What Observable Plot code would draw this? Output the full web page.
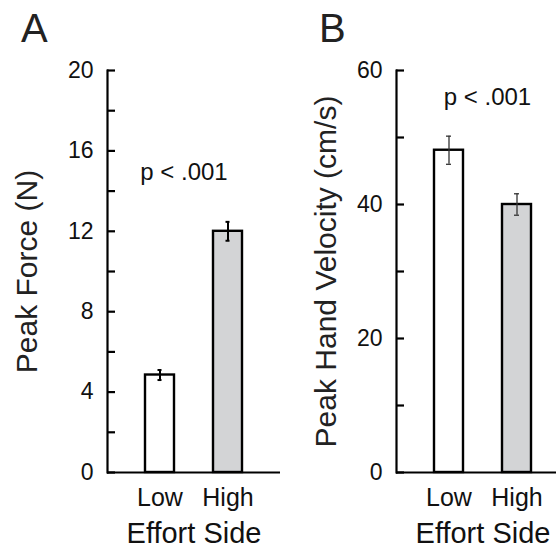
<!DOCTYPE html>
<html><head><meta charset="utf-8">
<script src="https://cdn.jsdelivr.net/npm/d3@7"></script>
<script src="https://cdn.jsdelivr.net/npm/@observablehq/plot@0.6"></script>
<style>
html,body{margin:0;padding:0;width:556px;height:550px;overflow:hidden;background:#fff;font-family:"Liberation Sans",Arial,sans-serif;}
#wrap{position:relative;width:556px;height:550px;overflow:hidden;}
.panel{position:absolute;top:0;}
.panel svg{max-width:none !important;display:block;}
.letter{position:absolute;font-size:40px;line-height:1;color:#222;}
</style></head><body>
<div id="wrap">
 <div id="pa" class="panel" style="left:0px;width:280px"></div>
 <div id="pb" class="panel" style="left:280px;width:289px"></div>
 <div class="letter" style="left:21px;top:8px">A</div>
 <div class="letter" style="left:319px;top:8px">B</div>
</div>
<script>
const categories = ["Low", "High"];
const forceMean = [4.85, 12.0];
const forceErr = [0.25, 0.47];
const velocityMean = [48.1, 40.0];
const velocityErr = [2.1, 1.6];
const forceTicks = [0, 4, 8, 12, 16, 20];
const forceMinorTicks = [0, 2, 4, 6, 8, 10, 12, 14, 16, 18, 20];
const velocityTicks = [0, 20, 40, 60];
const velocityMinorTicks = [0, 10, 20, 30, 40, 50, 60];
const barFills = ["#ffffff", "#d3d4d6"];
const xTitle = "Effort Side";
const pText = "p < .001";

function panel(o) {
  const data = categories.map((c, i) => ({cat: c, mean: o.means[i], err: o.errs[i], fill: barFills[i]}));
  const ml = o.marginLeft;
  return Plot.plot({
    width: o.width,
    height: 550,
    marginLeft: ml,
    marginRight: 0,
    marginTop: 70,
    marginBottom: 78,
    style: {fontFamily: "Liberation Sans, Arial, sans-serif", color: "#111", background: "transparent", overflow: "visible", maxWidth: "none"},
    x: {type: "band", domain: categories, range: [ml, ml + 173], padding: 0.544, align: 0.5, label: null},
    y: {domain: o.domain, label: null},
    color: {type: "identity"},
    marks: [
      Plot.barY(data, {x: "cat", y: "mean", fill: "fill", stroke: "#000", strokeWidth: 2.4, insetLeft: 1, insetRight: 1}),
      Plot.ruleX(data, {x: "cat", y1: d => d.mean - d.err, y2: d => d.mean + d.err, stroke: o.errStroke, strokeWidth: o.errWidth}),
      Plot.tickY(data, {x: "cat", y: d => d.mean + d.err, stroke: o.errStroke, strokeWidth: o.errWidth, insetLeft: o.capInset, insetRight: o.capInset}),
      Plot.tickY(data, {x: "cat", y: d => d.mean - d.err, stroke: o.errStroke, strokeWidth: o.errWidth, insetLeft: o.capInset, insetRight: o.capInset}),
      Plot.ruleY([0], {stroke: "#000", strokeWidth: 2.2}),
      Plot.frame({anchor: "left", stroke: "#000", strokeWidth: 2.2}),
      Plot.axisY({ticks: o.minor, tickSize: -8, tickFormat: () => "", strokeWidth: 2.2, stroke: "#000", label: null}),
      Plot.axisY({ticks: o.ticks, tickSize: 0, tickPadding: 14, fontSize: 23, label: null, fill: "#111"}),
      Plot.axisX({tickSize: 0, tickPadding: 16, fontSize: 25, label: null, fill: "#111"}),
      Plot.text([xTitle], {text: d => d, frameAnchor: "bottom", textAnchor: "middle", lineAnchor: "middle", dy: 61, fontSize: 29, fill: "#111"}),
      Plot.text([o.title], {text: d => d, frameAnchor: "left", textAnchor: "middle", lineAnchor: "middle", dx: o.titleDx, rotate: -90, fontSize: 30, fill: "#222"}),
      Plot.text([pText], {text: d => d, frameAnchor: "top", textAnchor: "middle", lineAnchor: "middle", dx: o.pdx, dy: o.pdy, fontSize: 24, fill: "#111"})
    ]
  });
}

document.getElementById("pa").appendChild(panel({
  means: forceMean, errs: forceErr, domain: [0, 20], ticks: forceTicks, minor: forceMinorTicks,
  title: "Peak Force (N)", width: 280, marginLeft: 107, titleDx: -80,
  errStroke: "#000", errWidth: 2, capInset: 13.5, pdx: -10, pdy: 102
}));
document.getElementById("pb").appendChild(panel({
  means: velocityMean, errs: velocityErr, domain: [0, 60], ticks: velocityTicks, minor: velocityMinorTicks,
  title: "Peak Hand Velocity (cm/s)", width: 289, marginLeft: 116, titleDx: -70,
  errStroke: "#333", errWidth: 1.3, capInset: 13, pdx: 4.5, pdy: 27
}));
</script>
</body></html>
